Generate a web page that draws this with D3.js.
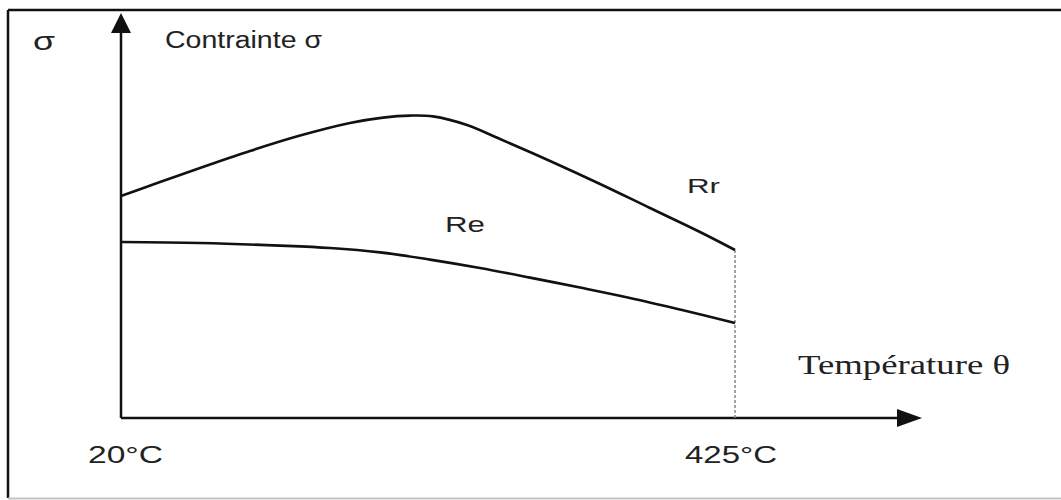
<!DOCTYPE html>
<html><head><meta charset="utf-8">
<script src="https://cdn.jsdelivr.net/npm/d3@7"></script>
<style>body{margin:0;background:#fff}svg{display:block}</style>
</head><body>
<script>
// Temperature (°C) and stress (arbitrary units)
const rrTemp  = [20, 45.7, 72.1, 105.1, 138.1, 171, 192.8, 210.6, 225.8, 248.2, 270, 303, 336, 368.9, 401.9, 425];
const rrSigma = [55.5, 59, 62.5, 66.75, 70.6, 73.75, 75.1, 75.6, 75.4, 73.25, 69.75, 64.25, 58.5, 52.5, 46.5, 42];
const reTemp  = [20, 72.1, 124.9, 157.9, 190.9, 223.8, 256.8, 289.8, 322.8, 355.7, 388.7, 425];
const reSigma = [44, 43.75, 43.1, 42.5, 41.4, 39.6, 37.5, 35.1, 32.6, 30, 27.1, 23.75];
const tickLabels = ["20°C", "425°C"];
const tickValues = [20, 425];
const yLabel = "Contrainte σ";
const yAxisSymbol = "σ";
const xLabel = "Température θ";
const seriesLabels = ["Rr", "Re"];

const W = 1061, H = 500;
const svg = d3.select("body").append("svg").attr("width", W).attr("height", H);

const x = d3.scaleLinear().domain([20, 425]).range([121, 735]);
const y = d3.scaleLinear().domain([0, 100]).range([418, 18]);

// frame
svg.append("line").attr("x1", 8).attr("x2", W).attr("y1", 10).attr("y2", 10)
  .attr("stroke", "#111").attr("stroke-width", 2.5);
svg.append("line").attr("x1", 8).attr("x2", 8).attr("y1", 10).attr("y2", 498)
  .attr("stroke", "#111").attr("stroke-width", 2.5);
svg.append("line").attr("x1", 8).attr("x2", W).attr("y1", 498.5).attr("y2", 498.5)
  .attr("stroke", "#c4c4c4").attr("stroke-width", 2);

const x0 = x(20), y0 = y(0);
const xEnd = x.range()[1] + 187, yTop = y.range()[1] - 5;

// axes
svg.append("line").attr("x1", x0).attr("x2", xEnd - 20).attr("y1", y0).attr("y2", y0)
  .attr("stroke", "#111").attr("stroke-width", 2.5);
svg.append("path").attr("d", `M${xEnd},${y0} L${xEnd - 25},${y0 - 9} L${xEnd - 25},${y0 + 9} Z`).attr("fill", "#111");
svg.append("line").attr("x1", x0).attr("x2", x0).attr("y1", y0).attr("y2", yTop + 16)
  .attr("stroke", "#111").attr("stroke-width", 2.5);
svg.append("path").attr("d", `M${x0},${yTop} L${x0 - 10},${yTop + 20} L${x0 + 10},${yTop + 20} Z`).attr("fill", "#111");

// dotted vertical at 425°C
svg.append("line").attr("x1", x(425)).attr("x2", x(425)).attr("y1", y(rrSigma[rrSigma.length - 1])).attr("y2", y0)
  .attr("stroke", "#888").attr("stroke-width", 1.5).attr("stroke-dasharray", "3,2");

const line = d3.line().x(d => x(d[0])).y(d => y(d[1])).curve(d3.curveCatmullRom.alpha(0.5));
svg.append("path").datum(d3.zip(rrTemp, rrSigma)).attr("d", line)
  .attr("fill", "none").attr("stroke", "#111").attr("stroke-width", 2.6);
svg.append("path").datum(d3.zip(reTemp, reSigma)).attr("d", line)
  .attr("fill", "none").attr("stroke", "#111").attr("stroke-width", 2.6);

function txt(s, xx, yy, len, size, family) {
  svg.append("text").attr("x", xx).attr("y", yy).text(s)
    .attr("font-family", family || "Liberation Sans, Arial, sans-serif")
    .attr("font-size", size).attr("fill", "#222")
    .attr("textLength", len).attr("lengthAdjust", "spacingAndGlyphs");
}
txt(yAxisSymbol, 33, 50, 22, 25);
txt(yLabel, 165, 48, 157, 23);
txt(tickLabels[0], x(tickValues[0]) - 33, 463, 75, 23);
txt(tickLabels[1], x(tickValues[1]) - 50, 463, 92, 23);
txt(xLabel, 798, 374, 212, 27, "Liberation Serif, Times New Roman, serif");
txt(seriesLabels[0], 687, 193, 33, 21);
txt(seriesLabels[1], 445, 232, 40, 22);
</script>
</body></html>
